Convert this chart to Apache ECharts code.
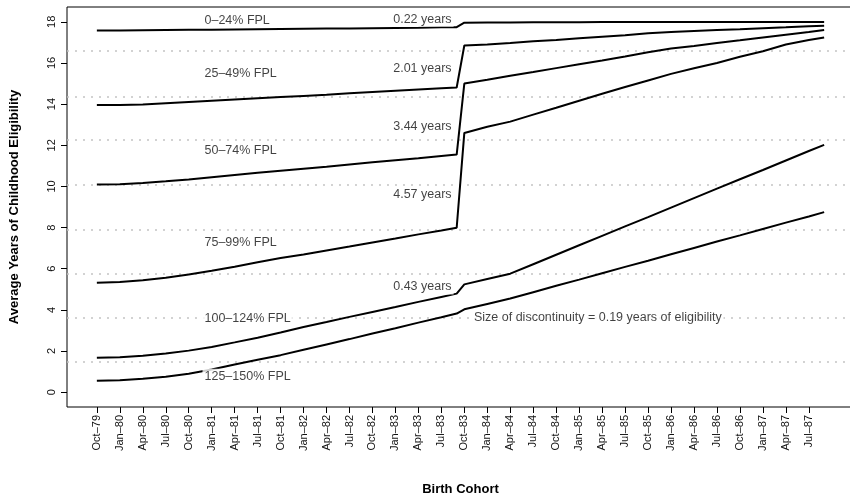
<!DOCTYPE html>
<html>
<head>
<meta charset="utf-8">
<script src="https://cdn.jsdelivr.net/npm/echarts@6/dist/echarts.min.js"></script>
<style>
  html, body { margin: 0; padding: 0; background: #fff; }
  #chart { width: 850px; height: 493px; }
</style>
</head>
<body>
<div id="chart"></div>
<script>
// months counted from Oct-79 (0) to Sep-87 (95)
var months = [0, 3, 6, 9, 12, 15, 18, 21, 24, 27, 30, 33, 36, 39, 42, 45, 47,
  48, 51, 54, 57, 60, 63, 66, 69, 72, 75, 78, 81, 84, 87, 90, 93, 95];

var fpl0to24 = [17.58, 17.58, 17.59, 17.6, 17.61, 17.62, 17.63, 17.64, 17.65, 17.66, 17.67, 17.68, 17.69, 17.7, 17.71, 17.73, 17.74,
  17.96, 17.97, 17.97, 17.98, 17.98, 17.98, 17.99, 17.99, 17.99, 17.99, 17.99, 17.99, 17.99, 17.99, 17.99, 17.99, 17.99];
var fpl25to49 = [13.96, 13.96, 13.98, 14.04, 14.1, 14.16, 14.22, 14.28, 14.34, 14.4, 14.46, 14.53, 14.59, 14.65, 14.71, 14.77, 14.81,
  16.85, 16.9, 16.97, 17.05, 17.12, 17.2, 17.28, 17.35, 17.45, 17.5, 17.55, 17.6, 17.64, 17.69, 17.73, 17.78, 17.81];
var fpl50to74 = [10.09, 10.1, 10.17, 10.25, 10.34, 10.45, 10.56, 10.66, 10.76, 10.86, 10.96, 11.07, 11.17, 11.27, 11.37, 11.48, 11.55,
  15.0, 15.18, 15.38, 15.56, 15.75, 15.94, 16.12, 16.31, 16.52, 16.7, 16.83, 16.97, 17.1, 17.24, 17.37, 17.5, 17.6];
var fpl75to99 = [5.32, 5.36, 5.44, 5.56, 5.72, 5.9, 6.1, 6.32, 6.52, 6.69, 6.89, 7.08, 7.28, 7.47, 7.67, 7.86, 7.99,
  12.6, 12.9, 13.15, 13.49, 13.82, 14.16, 14.5, 14.83, 15.15, 15.47, 15.74, 16.0, 16.3, 16.57, 16.9, 17.12, 17.24];
var fpl100to124 = [1.67, 1.7, 1.77, 1.88, 2.02, 2.2, 2.42, 2.65, 2.9, 3.17, 3.41, 3.66, 3.9, 4.14, 4.39, 4.63, 4.79,
  5.24, 5.5, 5.76, 6.22, 6.68, 7.14, 7.6, 8.06, 8.51, 8.97, 9.43, 9.89, 10.35, 10.8, 11.26, 11.72, 12.02];
var fpl125to150 = [0.55, 0.58, 0.65, 0.75, 0.9, 1.1, 1.35, 1.58, 1.8, 2.06, 2.32, 2.58, 2.85, 3.11, 3.38, 3.64, 3.82,
  4.03, 4.29, 4.55, 4.86, 5.17, 5.47, 5.78, 6.09, 6.39, 6.7, 7.01, 7.32, 7.62, 7.93, 8.24, 8.54, 8.75];

var cohortLabels = ["Oct–79", "Jan–80", "Apr–80", "Jul–80", "Oct–80", "Jan–81", "Apr–81", "Jul–81",
  "Oct–81", "Jan–82", "Apr–82", "Jul–82", "Oct–82", "Jan–83", "Apr–83", "Jul–83",
  "Oct–83", "Jan–84", "Apr–84", "Jul–84", "Oct–84", "Jan–85", "Apr–85", "Jul–85",
  "Oct–85", "Jan–86", "Apr–86", "Jul–86", "Oct–86", "Jan–87", "Apr–87", "Jul–87"];
var cohortTicks = cohortLabels.map(function (d, i) { return i * 3; });
var yTicks = [0, 2, 4, 6, 8, 10, 12, 14, 16, 18];

// dotted reference levels
var refLevels = [1.46, 3.64, 5.78, 7.9, 10.09, 12.28, 14.37, 16.6];

// group labels: [month, value, text]
var groupNotes = [
  [13.8, 18.08, "0–24% FPL"],
  [13.8, 15.51, "25–49% FPL"],
  [13.8, 11.74, "50–74% FPL"],
  [13.8, 7.29, "75–99% FPL"],
  [13.8, 3.6, "100–124% FPL"],
  [13.8, 0.78, "125–150% FPL"]
];
var jumpNotes = [
  [46.6, 18.13, "0.22 years"],
  [46.6, 15.75, "2.01 years"],
  [46.6, 12.9, "3.44 years"],
  [46.6, 9.6, "4.57 years"],
  [46.6, 5.11, "0.43 years"]
];
var sizeNote = [[49.0, 3.62, "Size of discontinuity = 0.19 years of eligibility"]];

var font = "'Liberation Sans', Arial, Helvetica, sans-serif";

function line(name, vals) {
  return {
    name: name,
    type: "line",
    showSymbol: false,
    symbol: "none",
    data: months.map(function (m, i) { return [m, vals[i]]; }),
    lineStyle: { color: "#000", width: 2 },
    z: 3
  };
}

function notes(name, arr, align) {
  return {
    name: name,
    type: "scatter",
    symbolSize: 0,
    silent: true,
    data: arr,
    z: 4,
    label: {
      show: true,
      position: "inside",
      align: align,
      verticalAlign: "middle",
      fontFamily: font,
      fontSize: 12.5,
      color: "#111",
      backgroundColor: "#fff",
      padding: [1, 2],
      formatter: function (p) { return p.data[2]; }
    }
  };
}

var myChart = echarts.init(document.getElementById("chart"));
var series = [
  line("0–24% FPL", fpl0to24),
  line("25–49% FPL", fpl25to49),
  line("50–74% FPL", fpl50to74),
  line("75–99% FPL", fpl75to99),
  line("100–124% FPL", fpl100to124),
  line("125–150% FPL", fpl125to150),
  notes("groups", groupNotes, "left"),
  notes("jumps", jumpNotes, "right"),
  notes("size", sizeNote, "left")
];
series[0].markLine = {
  silent: true,
  symbol: "none",
  label: { show: false },
  lineStyle: { color: "#c4c4c4", type: [2, 6], width: 1.6 },
  data: refLevels.map(function (v) { return { yAxis: v }; }),
  z: 1
};

myChart.setOption({
  animation: false,
  textStyle: { fontFamily: font },
  grid: {
    left: 67,
    right: -4,
    top: 7,
    bottom: 86,
    outerBoundsMode: "none",
    show: true,
    borderColor: "#000",
    borderWidth: 1
  },
  xAxis: {
    type: "value",
    min: -3.9,
    max: 98.9,
    name: "Birth Cohort",
    nameLocation: "middle",
    nameGap: 76,
    nameTextStyle: { fontSize: 13, fontWeight: "bold", color: "#000", fontFamily: font },
    axisLine: { show: false, onZero: false },
    splitLine: { show: false },
    axisTick: {
      show: true,
      length: 6,
      customValues: cohortTicks,
      lineStyle: { color: "#000" }
    },
    axisLabel: {
      rotate: 90,
      margin: 8,
      fontSize: 11,
      color: "#111",
      fontFamily: font,
      customValues: cohortTicks,
      formatter: function (v) { return cohortLabels[Math.round(v / 3)]; }
    }
  },
  yAxis: {
    type: "value",
    min: -0.72,
    max: 18.72,
    name: "Average Years of Childhood Eligibility",
    nameLocation: "middle",
    nameRotate: 90,
    nameGap: 46,
    nameTextStyle: { fontSize: 13, fontWeight: "bold", color: "#000", fontFamily: font },
    axisLine: { show: false, onZero: false },
    splitLine: { show: false },
    axisTick: {
      show: true,
      length: 6,
      customValues: yTicks,
      lineStyle: { color: "#000" }
    },
    axisLabel: {
      rotate: 90,
      margin: 10,
      fontSize: 11,
      color: "#111",
      fontFamily: font,
      customValues: yTicks
    }
  },
  series: series
});
</script>
</body>
</html>
